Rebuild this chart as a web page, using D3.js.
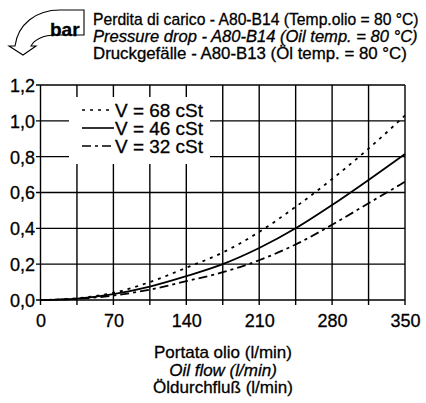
<!DOCTYPE html>
<html>
<head>
<meta charset="utf-8">
<script src="https://cdn.jsdelivr.net/npm/d3@7/dist/d3.min.js"></script>
<style>
  html, body { margin: 0; padding: 0; background: #fff; }
  svg { display: block; font-family: "Liberation Sans", Arial, Helvetica, sans-serif; }
  text { stroke: #000; stroke-width: 0.3px; fill: #000; }
</style>
</head>
<body>
<svg id="chart" width="426" height="403"></svg>
<script>
// Flow rate (l/min) at which each curve is sampled
const flow = [0, 35, 70, 105, 140, 175, 210, 245, 280, 315, 350];
// Pressure drop (bar) for each oil viscosity
const dp68 = [0, 0.01, 0.04, 0.10, 0.18, 0.265, 0.38, 0.52, 0.675, 0.845, 1.03];
const dp46 = [0, 0.008, 0.033, 0.075, 0.133, 0.20, 0.29, 0.40, 0.53, 0.67, 0.815];
const dp32 = [0, 0.006, 0.025, 0.058, 0.105, 0.155, 0.222, 0.31, 0.42, 0.54, 0.66];
const seriesNames = ["V = 68 cSt", "V = 46 cSt", "V = 32 cSt"];
const xTicks = [0, 70, 140, 210, 280, 350];
const yTicks = [0, 0.2, 0.4, 0.6, 0.8, 1.0, 1.2];
const xGrid = [0, 35, 70, 105, 140, 175, 210, 245, 280, 315, 350];
const titleLines = [
  "Perdita di carico - A80-B14 (Temp.olio = 80 °C)",
  "Pressure drop - A80-B14 (Oil temp. = 80 °C)",
  "Druckgefälle - A80-B13 (Öl temp. = 80 °C)"
];
const xTitleLines = ["Portata olio (l/min)", "Oil flow (l/min)", "Öldurchfluß (l/min)"];

const svg = d3.select("#chart");
const plotLeft = 40.5, plotRight = 405, plotTop = 85, plotBottom = 300;

const x = d3.scaleLinear().domain([0, 350]).range([plotLeft, plotRight]);
const y = d3.scaleLinear().domain([0, 1.2]).range([plotBottom, plotTop]);

// Header: unit arrow and three-language title
svg.append("path")
  .attr("d", "M84,10 L84,35 L56,35 C43,35 34,40 31,46 L36,46 L23,55 L9,46 L15,46 C18,24 36,10 60,10 Z")
  .attr("fill", "none").attr("stroke", "#000").attr("stroke-width", 1.1);
svg.append("text").attr("x", 50).attr("y", 35.5)
  .attr("font-size", 19).attr("font-weight", "bold").text("bar");

// Title lines are set in a condensed style: horizontally scaled to a target width
const titleWidth = [326, 325, 314];
const titleBase = [24.5, 41.5, 58.5];
titleLines.forEach((t, i) => {
  const txt = svg.append("text")
    .attr("x", 0).attr("y", 0)
    .attr("font-size", 16)
    .attr("font-style", i === 1 ? "italic" : "normal")
    .text(t);
  const w = txt.node().getComputedTextLength();
  txt.attr("transform", `translate(93,${titleBase[i]}) scale(${titleWidth[i] / w},1)`);
});

// Grid lines with ticks extending outside the plot
const grid = svg.append("g").attr("stroke", "#000").attr("stroke-width", 1.4);
grid.selectAll("line.v").data(xGrid).join("line").attr("class", "v")
  .attr("x1", d => x(d)).attr("x2", d => x(d))
  .attr("y1", y(0) + 5).attr("y2", y(1.2));
grid.selectAll("line.h").data(yTicks).join("line").attr("class", "h")
  .attr("x1", x(0) - 4.5).attr("x2", x(350))
  .attr("y1", d => y(d)).attr("y2", d => y(d));

// Axis labels via d3 axes (ticks hidden, gridlines drawn above)
const xAxis = svg.append("g").attr("transform", `translate(0,${plotBottom})`)
  .call(d3.axisBottom(x).tickValues(xTicks).tickSize(0).tickPadding(0).tickFormat(d3.format("d")));
xAxis.select(".domain").remove();
xAxis.selectAll("text").attr("y", 27).attr("dy", 0)
  .attr("font-size", 18).attr("fill", "#000").attr("font-family", "Liberation Sans, Arial, sans-serif");

const yAxis = svg.append("g").attr("transform", `translate(${plotLeft},0)`)
  .call(d3.axisLeft(y).tickValues(yTicks).tickSize(0).tickPadding(0)
    .tickFormat(d => d3.format(".1f")(d).replace(".", ",")));
yAxis.select(".domain").remove();
yAxis.selectAll("text").attr("x", -5.5).attr("dy", "0.36em")
  .attr("font-size", 18).attr("fill", "#000").attr("font-family", "Liberation Sans, Arial, sans-serif");

// Curves
const styles = [
  { data: dp68, dash: "3,5" },
  { data: dp46, dash: null },
  { data: dp32, dash: "9,4,3,4" }
];
const line = d3.line().x(d => x(d[0])).y(d => y(d[1])).curve(d3.curveMonotoneX);
styles.forEach(s => {
  svg.append("path")
    .datum(flow.map((f, i) => [f, s.data[i]]))
    .attr("d", line)
    .attr("fill", "none").attr("stroke", "#000").attr("stroke-width", 1.8)
    .attr("stroke-dasharray", s.dash);
});

// Legend
svg.append("rect").attr("x", 69).attr("y", 97).attr("width", 141).attr("height", 67).attr("fill", "#fff");
const legendRows = [110, 128, 146];
seriesNames.forEach((n, i) => {
  svg.append("line")
    .attr("x1", 82).attr("x2", i === 1 ? 114 : 112)
    .attr("y1", legendRows[i]).attr("y2", legendRows[i])
    .attr("stroke", "#000").attr("stroke-width", 1.6)
    .attr("stroke-dasharray", styles[i].dash);
  svg.append("text").attr("x", 115).attr("y", legendRows[i] + 6.5)
    .attr("font-size", 18).attr("textLength", 88).attr("lengthAdjust", "spacingAndGlyphs")
    .text(n);
});

// X axis title
const xtBase = [358, 375.5, 393];
xTitleLines.forEach((t, i) => {
  svg.append("text").attr("x", 223).attr("y", xtBase[i])
    .attr("text-anchor", "middle").attr("font-size", 17)
    .attr("font-style", i === 1 ? "italic" : "normal")
    .text(t);
});
</script>
</body>
</html>
